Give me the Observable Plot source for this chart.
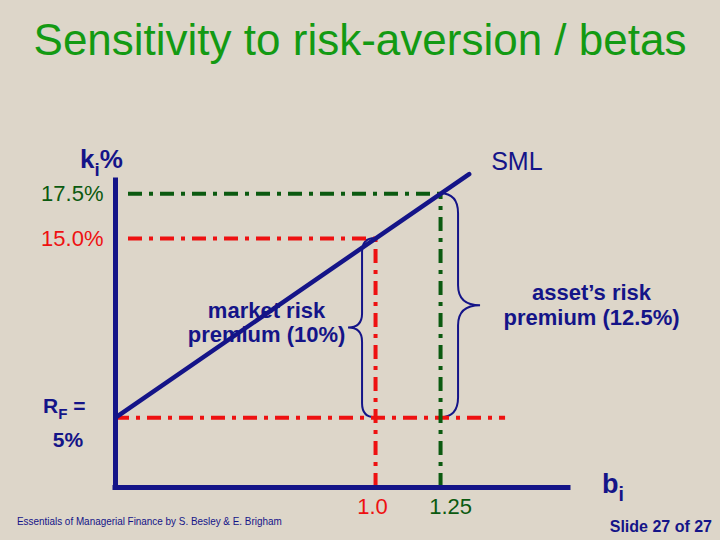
<!DOCTYPE html>
<html><head><meta charset="utf-8">
<script src="https://cdn.jsdelivr.net/npm/d3@7"></script>
<script src="https://cdn.jsdelivr.net/npm/@observablehq/plot@0.6"></script>
<style>
html,body{margin:0;padding:0;}
body{width:720px;height:540px;background:#ddd6c9;position:relative;overflow:hidden;font-family:"Liberation Sans",Arial,sans-serif;}
#title{position:absolute;left:0;top:10px;width:720px;text-align:center;font-size:44px;color:#139a13;line-height:60px;white-space:nowrap;}
#chart{position:absolute;left:0;top:80px;}
#credit{position:absolute;left:17px;top:515px;font-size:11px;line-height:13px;color:#141488;transform-origin:left top;transform:scaleX(0.9);white-space:nowrap;}
#slide{position:absolute;right:8px;top:519px;font-size:16px;line-height:16px;font-weight:bold;color:#141488;white-space:nowrap;}
</style></head><body>
<div id="title">Sensitivity to risk-aversion / betas</div>
<div id="chart"></div>
<div id="credit">Essentials of Managerial Finance by S. Besley &amp; E. Brigham</div>
<div id="slide">Slide 27 of 27</div>
<script>
// ---- data ----
const betas = [1.0, 1.25];
const betaLabels = ["1.0", "1.25"];
const returns = [15.0, 17.5];
const returnLabels = ["15.0%", "17.5%"];
const seriesColors = ["#ee1111", "#0b5a10"];
const premiumLabels = ["market risk\npremium (10%)", "asset\u2019s risk\npremium (12.5%)"];
const riskFree = 5;
const smlBeta = [0, 1.36];
const smlReturn = [5, 18.6];
const xDomain = [0, 1.742];
const yDomain = [1.1, 18.24];
const guideStart = 0.05;
const rfLineEnd = 1.5;

const navy = "#141488";
const dash = "14,7,4,7";
const font = "Liberation Sans, Arial, sans-serif";

const points = betas.map((b, i) => ({b, k: returns[i], label: returnLabels[i], blabel: betaLabels[i], color: seriesColors[i], premium: premiumLabels[i]}));
const sml = smlBeta.map((b, i) => ({b, k: smlReturn[i]}));

function richText(x, y, parts, {dx = 0, dy = 0, fill = navy, fontSize = 20, fontWeight = "bold", anchor = "start"} = {}) {
  return (index, scales) => {
    const t = d3.create("svg:text")
      .attr("x", scales.x(x) + dx).attr("y", scales.y(y) + dy)
      .attr("fill", fill).attr("font-size", fontSize).attr("font-weight", fontWeight)
      .attr("font-family", font).attr("text-anchor", anchor);
    let shift = 0;
    parts.forEach(p => {
      const s = t.append("tspan").text(p.text);
      const target = p.sub ? fontSize * 0.3 : 0;
      if (target !== shift) { s.attr("dy", target - shift); shift = target; }
      if (p.sub) s.attr("font-size", fontSize * 0.72);
    });
    return t.node();
  };
}

function brace(b, k1, k2, dir, w, tip, r) {
  return (index, {x, y}) => {
    const x0 = x(b), yTop = y(k2), yBot = y(k1), yMid = (yTop + yBot) / 2;
    const xb = x0 + dir * w, xt = x0 + dir * (w + tip);
    const p = d3.path();
    p.moveTo(x0, yTop);
    p.quadraticCurveTo(xb, yTop, xb, yTop + r);
    p.lineTo(xb, yMid - r);
    p.quadraticCurveTo(xb, yMid, xt, yMid);
    p.quadraticCurveTo(xb, yMid, xb, yMid + r);
    p.lineTo(xb, yBot - r);
    p.quadraticCurveTo(xb, yBot, x0, yBot);
    return d3.create("svg:path").attr("d", p.toString()).attr("fill", "none")
      .attr("stroke", navy).attr("stroke-width", 2).node();
  };
}

const chart = Plot.plot({
  width: 720, height: 460,
  marginLeft: 115, marginRight: 152, marginTop: 100, marginBottom: 53,
  x: {domain: xDomain, axis: null},
  y: {domain: yDomain, axis: null},
  color: {type: "identity"},
  style: {background: "transparent", fontFamily: font, overflow: "visible"},
  marks: [
    // braces
    brace(betas[0], riskFree, returns[0], -1, 13, 14, 14),
    brace(betas[1], riskFree, returns[1], 1, 18, 22, 20),
    // risk-free line
    Plot.ruleY([riskFree], {x1: xDomain[0], x2: rfLineEnd, stroke: seriesColors[0], strokeWidth: 4, strokeDasharray: dash}),
    // guides
    Plot.ruleY(points, {y: "k", x1: guideStart, x2: "b", stroke: "color", strokeWidth: 4, strokeDasharray: dash}),
    Plot.ruleX(points, {x: "b", y1: yDomain[0], y2: "k", stroke: "color", strokeWidth: 4, strokeDasharray: dash}),
    // SML
    Plot.line(sml, {x: "b", y: "k", stroke: navy, strokeWidth: 4.5}),
    // axes
    Plot.ruleX([xDomain[0]], {stroke: navy, strokeWidth: 5, strokeLinecap: "square"}),
    Plot.ruleY([yDomain[0]], {stroke: navy, strokeWidth: 5, strokeLinecap: "square"}),
    // return labels
    Plot.text(points, {x: xDomain[0], y: "k", text: "label", fill: "color", textAnchor: "end", dx: -12, fontSize: 22}),
    // beta labels
    Plot.text(points.slice(0, 1), {x: "b", y: yDomain[0], text: "blabel", fill: "color", dx: -3, dy: 19, fontSize: 22}),
    Plot.text(points.slice(1, 2), {x: "b", y: yDomain[0], text: "blabel", fill: "color", dx: 10, dy: 19, fontSize: 22}),
    // premium labels
    Plot.text(points.slice(0, 1), {x: "b", y: d => (d.k + riskFree) / 2, text: "premium", fill: navy, fontWeight: "bold", fontSize: 22, lineHeight: 1.1, dx: -109, dy: -6}),
    Plot.text(points.slice(1, 2), {x: "b", y: d => (d.k + riskFree) / 2, text: "premium", fill: navy, fontWeight: "bold", fontSize: 22, lineHeight: 1.1, dx: 151, dy: -1}),
    // SML label
    Plot.text(sml.slice(1), {x: "b", y: "k", text: () => "SML", fill: navy, fontSize: 25, textAnchor: "start", dx: 22, dy: -12}),
    // axis titles
    richText(xDomain[0], yDomain[1], [{text: "k"}, {text: "i", sub: true}, {text: "%"}], {dx: -35, dy: -12, fontSize: 26}),
    richText(xDomain[1], yDomain[0], [{text: "b"}, {text: "i", sub: true}], {dx: 34, dy: 6, fontSize: 27}),
    richText(xDomain[0], riskFree, [{text: "R"}, {text: "F", sub: true}, {text: " ="}], {dx: -72, dy: -4, fontSize: 21}),
    richText(xDomain[0], riskFree, [{text: "5%"}], {dx: -47, dy: 30, fontSize: 21, anchor: "middle"})
  ]
});
document.getElementById("chart").appendChild(chart);
</script>
</body></html>
